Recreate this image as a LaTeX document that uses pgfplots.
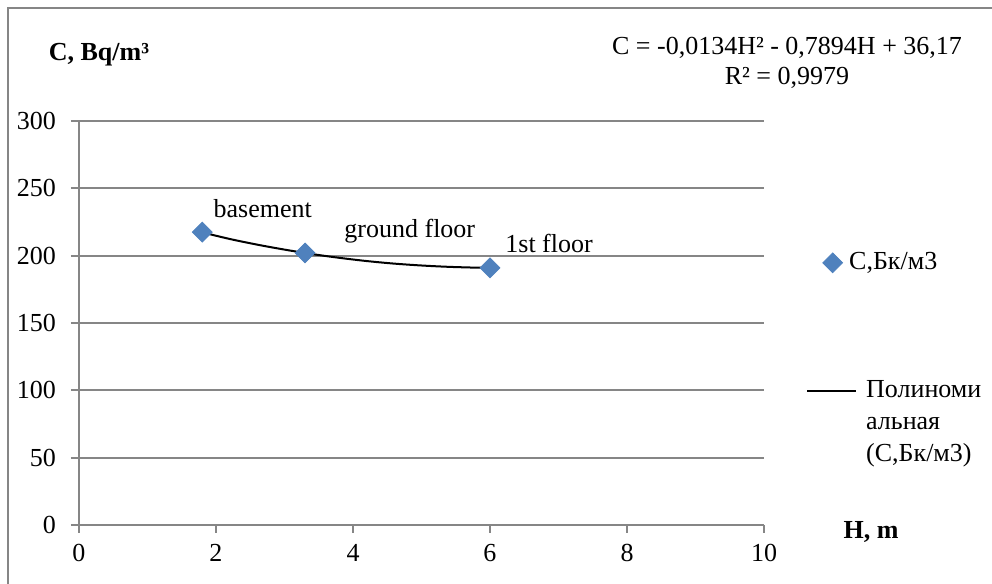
\documentclass[border=0pt]{standalone}
\usepackage{fontspec}
\setmainfont{Liberation Serif}
\newfontfamily\xl{Liberation Serif}
\usepackage{pgfplots}
\usepackage{pgfplotstable}
\pgfplotsset{compat=1.18}
\definecolor{xlblue}{HTML}{4F81BD}
\definecolor{xlgray}{HTML}{868686}
\pgfplotsset{
  markleg/.style={legend image code/.code={\draw[mark repeat=2,mark phase=2,only marks,##1] plot coordinates {(0pt,0pt)(12.75pt,0pt)(24.5pt,0pt)};}},
  lineleg/.style={legend image code/.code={\path[draw=none,fill=none] (0pt,-16pt) rectangle (0.1pt,16pt); \draw[##1] (0pt,16pt) -- (24.5pt,16pt);}},
}
\pgfplotstableread[col sep=comma]{
x,y,lab,dx
1.8,217.5,basement,5.5
3.3,202,ground floor,19.5
6,191,1st floor,7.5
}\points
\pgfplotstableread{
x y
1.8 217.3
2.2 212.4
2.6 208.2
3.0 204.5
3.4 201.2
3.8 198.4
4.2 196.0
4.6 194.1
5.0 192.7
5.4 191.7
5.8 191.1
6.0 191.0
}\trend
\begin{document}
\xl\fontsize{13}{16}\selectfont
\begin{tikzpicture}[every node/.append style={font=\xl\fontsize{13}{16}\selectfont}]
\useasboundingbox (0pt,0pt) rectangle (496pt,292pt);
\draw[xlgray, line width=0.75pt] (4pt,0pt) -- (4pt,288pt) -- (496pt,288pt);
\begin{axis}[
  at={(39.5pt,29.5pt)}, anchor=south west, scale only axis,
  width=342.5pt, height=202pt,
  xmin=0, xmax=10, ymin=0, ymax=300,
  xtick={0,2,...,10}, ytick={0,50,...,300},
  axis lines*=left, axis line style={xlgray, line width=0.9pt},
  ymajorgrids, grid style={xlgray, line width=0.9pt},
  tick align=outside, major tick length=4pt, tick style={xlgray, line width=0.9pt},
  /pgf/number format/assume math mode=true,
  tick label style={font=\xl\fontsize{13}{16}\selectfont},
  yticklabel style={xshift=-3pt},
  xticklabel style={yshift=-1pt},
  clip=false,
  legend cell align=left,
  legend style={at={(1.061,0.686)}, anchor=north west, draw=none, fill=none,
    inner sep=0pt, row sep=49.5pt, column sep=2.5pt, nodes={inner sep=2pt, align=left, font=\xl\fontsize{13}{16}\selectfont}},
]
\addplot[only marks, mark=square*, mark size=3.5pt, mark options={rotate=45, fill=xlblue, draw=xlblue},
  point meta=explicit symbolic,
  visualization depends on={\thisrow{dx} \as \dx},
  nodes near coords,
  nodes near coords style={anchor=base west, inner sep=0pt, xshift=\dx pt, yshift=7.5pt, font=\xl\fontsize{13}{16}\selectfont, text=black},
  markleg
] table[x=x, y=y, meta=lab] {\points};
\addlegendentry{\hspace*{-8.5pt}С,Бк/м3}
\addplot[black, line width=1pt, smooth, no marks, lineleg] table[x=x, y=y] {\trend};
\addlegendentry{Полиноми\\альная\\(С,Бк/м3)}
\end{axis}
\node[font=\xl\bfseries\fontsize{13}{16}\selectfont] at (49.5pt,264.5pt) {C, Bq/m³};
\node[align=center, font=\xl\fontsize{13}{15}\selectfont] at (393.5pt,260.5pt) {C = -0,0134H² - 0,7894H + 36,17\\R² = 0,9979};
\node[font=\xl\bfseries\fontsize{13}{16}\selectfont] at (435.5pt,26pt) {H, m};
\end{tikzpicture}
\end{document}
